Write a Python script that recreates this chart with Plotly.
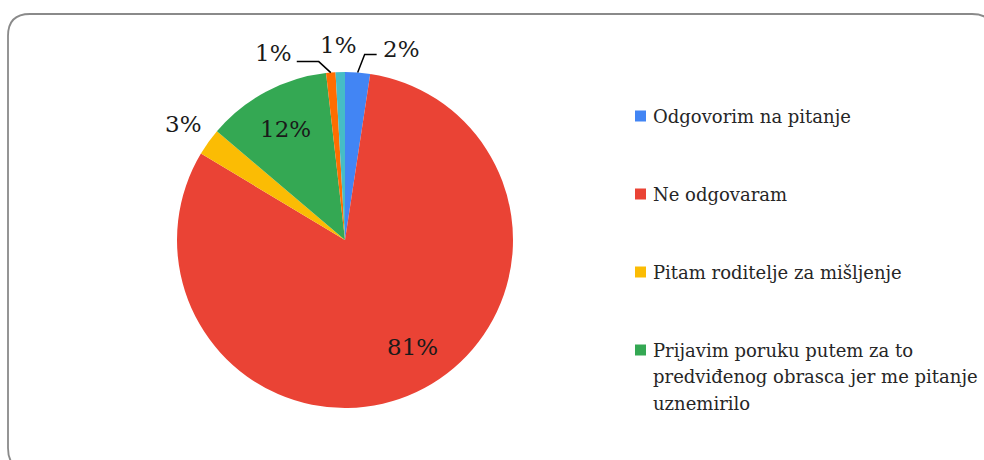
import math
import plotly.graph_objects as go

# ---------------- data ----------------
categories = [
    "Odgovorim na pitanje",
    "Ne odgovaram",
    "Pitam roditelje za mišljenje",
    "Prijavim poruku putem za to predviđenog obrasca jer me pitanje uznemirilo",
    "Ostalo (1)",
    "Ostalo (2)",
]
values = [2.4, 81.2, 2.6, 12.0, 0.9, 0.9]
colors = ["#4285F4", "#EA4335", "#FBBC04", "#34A853", "#FF6D01", "#46BDC6"]
legend_lines = [
    ["Odgovorim na pitanje"],
    ["Ne odgovaram"],
    ["Pitam roditelje za mišljenje"],
    ["Prijavim poruku putem za to", "predviđenog obrasca jer me pitanje", "uznemirilo"],
]
label_modes = ["leader_right", "inside", "outside", "inside", "leader_left", "outside"]
# small pixel nudges of each label (style only)
label_nudge = [(0, 0), (14, -7), (0, 0), (0, 0), (2, 1), (-1, 4)]

# ---------------- layout constants ----------------
W, H = 984, 460
CX, CY, R = 345, 240, 168
FONT = "DejaVu Serif"
TXT = "#1a1a1a"


def px(x):
    return x / W


def py(y):
    return 1 - y / H


fig = go.Figure(
    go.Pie(
        labels=categories,
        values=values,
        sort=False,
        direction="clockwise",
        rotation=0,
        marker=dict(colors=colors, line=dict(width=0)),
        textinfo="none",
        hoverinfo="label+percent",
        showlegend=False,
        domain=dict(x=[px(CX - R), px(CX + R)], y=[py(CY + R), py(CY - R)]),
    )
)

annotations = []
shapes = []

total = sum(values)
cum = 0.0
for v, mode, (nx, ny) in zip(values, label_modes, label_nudge):
    mid = (cum + v / 2) / total * 2 * math.pi
    cum += v
    txt = f"{round(v / total * 100)}%"
    sx, sy = math.sin(mid), math.cos(mid)

    def pt(rho):
        return CX + rho * sx, CY - rho * sy

    if mode in ("inside", "outside"):
        x, y = pt(0.75 * R if mode == "inside" else R + 31)
        annotations.append(dict(x=px(x + nx), y=py(y + ny), xref="paper", yref="paper", text=txt,
                                showarrow=False, xanchor="center", yanchor="middle",
                                font=dict(family=FONT, size=23, color=TXT)))
    else:
        ex, ey = pt(R)
        if mode == "leader_left":
            bx, by = ex - 12, ey - 11
            fx, fy = bx - 22, by
            lx, anchor = fx - 5, "right"
            ly = fy - 10
        else:
            bx, by = ex + 7, ey - 18
            fx, fy = bx + 12, by
            lx, anchor = fx + 4, "left"
            ly = fy - 5
        shapes.append(dict(type="path", xref="paper", yref="paper",
                           path=f"M {px(ex)} {py(ey)} L {px(bx)} {py(by)} L {px(fx)} {py(fy)}",
                           line=dict(color="#000000", width=1.5)))
        annotations.append(dict(x=px(lx + nx), y=py(ly + ny), xref="paper", yref="paper", text=txt,
                                showarrow=False, xanchor=anchor, yanchor="middle",
                                font=dict(family=FONT, size=23, color=TXT)))

# ---------------- manual legend ----------------
LEG_X_BOX, LEG_BOX, LEG_X_TXT = 635, 11, 651
LEG_Y0, LEG_GAP, LINE_GAP = 116, 78, 26.5
for i, lines in enumerate(legend_lines):
    yc = LEG_Y0 + i * LEG_GAP
    shapes.append(dict(type="rect", xref="paper", yref="paper",
                       x0=px(LEG_X_BOX), x1=px(LEG_X_BOX + LEG_BOX),
                       y0=py(yc - LEG_BOX / 2), y1=py(yc + LEG_BOX / 2),
                       fillcolor=colors[i], line=dict(width=0)))
    for k, line in enumerate(lines):
        annotations.append(dict(x=px(LEG_X_TXT), y=py(yc + k * LINE_GAP), xref="paper", yref="paper",
                                text=line, showarrow=False, xanchor="left", yanchor="middle",
                                font=dict(family=FONT, size=18, color="#262626")))

# ---------------- rounded frame ----------------
L, T, Rt, B, RAD = 8, 14, 994, 470, 22
frame = (
    f"M {px(L)} {py(T + RAD)} Q {px(L)} {py(T)} {px(L + RAD)} {py(T)} "
    f"L {px(Rt - RAD)} {py(T)} Q {px(Rt)} {py(T)} {px(Rt)} {py(T + RAD)} "
    f"L {px(Rt)} {py(B - RAD)} Q {px(Rt)} {py(B)} {px(Rt - RAD)} {py(B)} "
    f"L {px(L + RAD)} {py(B)} Q {px(L)} {py(B)} {px(L)} {py(B - RAD)} Z"
)
shapes.append(dict(type="path", xref="paper", yref="paper", path=frame,
                   line=dict(color="#8a8a8a", width=1.8), layer="below"))

fig.update_layout(
    width=W, height=H,
    margin=dict(l=0, r=0, t=0, b=0),
    paper_bgcolor="white", plot_bgcolor="white",
    annotations=annotations, shapes=shapes,
    font=dict(family=FONT),
)

fig.write_html("out.html", config={"displayModeBar": False},
               post_script="document.body.style.margin='0';")
